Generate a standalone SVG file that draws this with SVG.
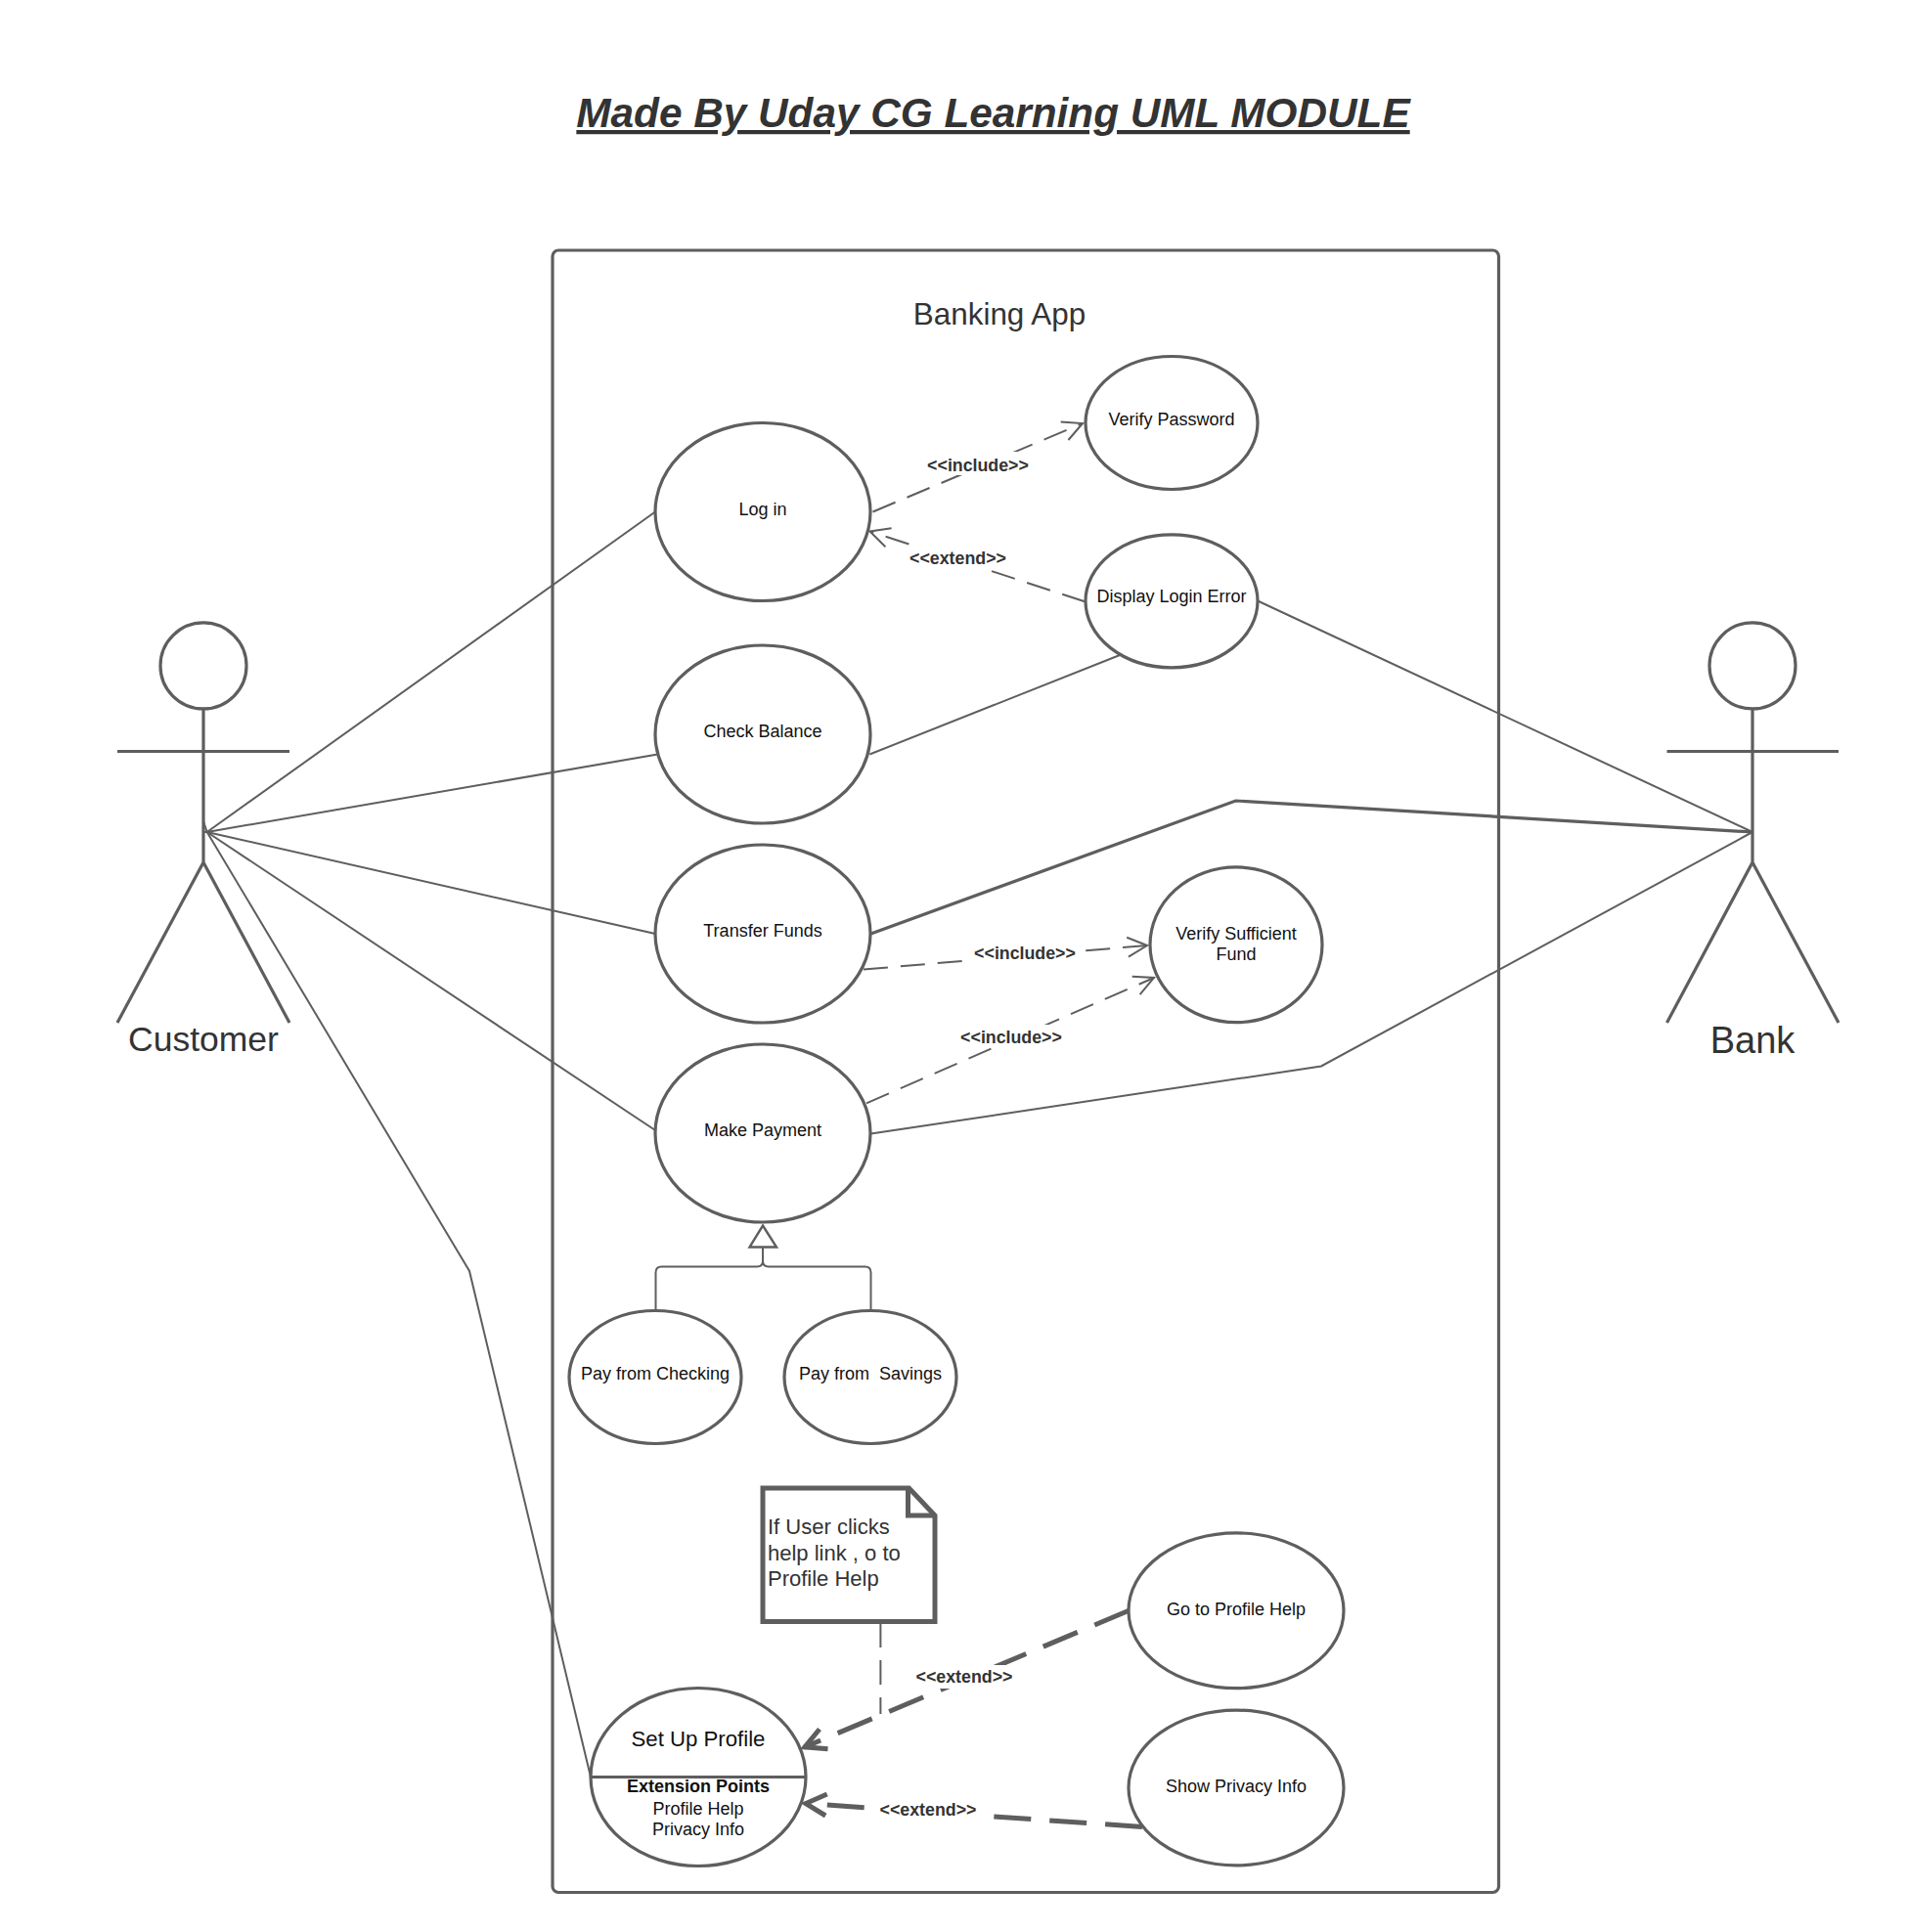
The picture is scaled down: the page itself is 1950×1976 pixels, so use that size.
<svg xmlns="http://www.w3.org/2000/svg" width="1950" height="1976" viewBox="0 0 1950 1976">
<style>
text{font-family:"Liberation Sans",Arial,sans-serif;text-anchor:middle}
.uc{fill:#fff;stroke:#5e5e5e;stroke-width:3.2}
.t{font-size:18px;fill:#111}
.lab{font-size:17.8px;font-weight:bold;fill:#333}
.bg{fill:#fff}
.line{fill:none;stroke:#5e5e5e;stroke-width:2}
.thick{fill:none;stroke:#5e5e5e;stroke-width:3.2}
.dash{fill:none;stroke:#5e5e5e;stroke-width:2;stroke-dasharray:25 13;marker-end:url(#open)}
.dashb{fill:none;stroke:#5e5e5e;stroke-width:5;stroke-dasharray:38 19;marker-end:url(#openb)}
.act{fill:none;stroke:#5e5e5e;stroke-width:3.2}
.actl{font-size:35.5px;fill:#333}
</style>
<defs>
<marker id="open" markerUnits="userSpaceOnUse" markerWidth="32" markerHeight="32" refX="25" refY="16" orient="auto"><path d="M5,6 L25,16 L5,26" fill="none" stroke="#5e5e5e" stroke-width="2"/></marker>
<marker id="openb" markerUnits="userSpaceOnUse" markerWidth="36" markerHeight="36" refX="28" refY="18" orient="auto"><path d="M6,7 L27,18 L6,29" fill="none" stroke="#5e5e5e" stroke-width="5"/></marker>
</defs>
<rect width="1950" height="1976" fill="#fff"/>
<g id="title">
<text x="1015.5" y="130" font-size="42.3" font-weight="bold" font-style="italic" fill="#333" text-decoration="underline">Made By Uday CG Learning UML MODULE</text>
</g>
<g id="system">
<rect x="565" y="256" width="967.5" height="1679.5" rx="6" fill="#fff" stroke="#5e5e5e" stroke-width="3.2"/>
<text x="1022" y="332" font-size="31.4" fill="#333">Banking App</text>
</g>
<g id="connectors">
<path class="line" d="M208,840L211.7,851L208,851"/>
<path class="line" d="M211.7,851L670,523.5"/>
<path class="line" d="M211.7,851L672.5,771.5"/>
<path class="line" d="M211.7,851L670,955"/>
<path class="line" d="M211.7,851L670,1156"/>
<path class="line" d="M211.7,851L480,1300L604,1817.5"/>
<path class="line" d="M889.3,771.5L1146.3,669.5"/>
<path class="line" d="M1286,614.5L1792,851"/>
<path class="thick" d="M890.6,955L1263.5,819L1792,851"/>
<path class="line" d="M890.6,1159.5L1351,1090.5L1792,851"/>
<path class="dash" d="M892.5,523.5L1107,433"/>
<path class="dash" d="M1110,615.5L889.5,543.5"/>
<path class="dash" d="M883,991.5L1173,967"/>
<path class="dash" d="M886,1128.3L1180,1000"/>
<path class="line" d="M900.4,1660V1753" stroke-dasharray="25 13"/>
<path class="dashb" d="M1154.3,1647.2L822,1787.2"/>
<path class="dashb" d="M1168,1868.5L823,1844.5"/>
<path class="line" d="M670.5,1340V1301.5Q670.5,1295.5 676.5,1295.5H774Q780,1295.5 780,1289.5V1275M890.5,1340V1301.5Q890.5,1295.5 884.5,1295.5H786Q780,1295.5 780,1289.5"/>
<path d="M780,1253.5L794,1275.5H766.5L780,1253.5Z" fill="#fff" stroke="#5e5e5e" stroke-width="2.4"/>
</g>
<g id="edge-labels">
<rect class="bg" x="948" y="462" width="104" height="24"/><text class="lab" x="1000" y="481.5">&lt;&lt;include&gt;&gt;</text>
<rect class="bg" x="930" y="558" width="100" height="24"/><text class="lab" x="979.5" y="577">&lt;&lt;extend&gt;&gt;</text>
<rect class="bg" x="996" y="962" width="104" height="24"/><text class="lab" x="1048" y="981">&lt;&lt;include&gt;&gt;</text>
<rect class="bg" x="982" y="1048" width="104" height="24"/><text class="lab" x="1034" y="1067">&lt;&lt;include&gt;&gt;</text>
<rect class="bg" x="936" y="1703" width="100" height="24"/><text class="lab" x="986" y="1721">&lt;&lt;extend&gt;&gt;</text>
<rect class="bg" x="899" y="1839" width="100" height="24"/><text class="lab" x="949" y="1857">&lt;&lt;extend&gt;&gt;</text>
</g>
<g id="customer">
<circle class="act" cx="208" cy="680.9" r="44"/>
<path class="act" d="M208,725V882M120,768.5H296M208,882L120,1046M208,882L296,1046"/>
<text class="actl" x="208" y="1075">Customer</text>
</g>
<g id="bank">
<circle class="act" cx="1792" cy="680.9" r="44"/>
<path class="act" d="M1792,725V882M1704.5,768.5H1880M1792,882L1704.5,1046M1792,882L1880,1046"/>
<text class="actl" x="1792" y="1076.5" style="font-size:38px">Bank</text>
</g>
<g id="login"><ellipse class="uc" cx="780" cy="523.5" rx="110" ry="91"/><text class="t" x="780" y="526.5">Log in</text></g>
<g id="balance"><ellipse class="uc" cx="780" cy="751" rx="110" ry="91"/><text class="t" x="780" y="753.5">Check Balance</text></g>
<g id="transfer"><ellipse class="uc" cx="780" cy="955" rx="110" ry="91"/><text class="t" x="780" y="958">Transfer Funds</text></g>
<g id="payment"><ellipse class="uc" cx="780" cy="1159" rx="110" ry="91"/><text class="t" x="780" y="1162">Make Payment</text></g>
<g id="verify-password"><ellipse class="uc" cx="1198" cy="432.5" rx="88" ry="68"/><text class="t" x="1198" y="434.5">Verify Password</text></g>
<g id="login-error"><ellipse class="uc" cx="1198" cy="614.8" rx="88" ry="68"/><text class="t" x="1198" y="616">Display Login Error</text></g>
<g id="verify-fund"><ellipse class="uc" cx="1264" cy="966.3" rx="88" ry="79.4"/><text class="t" x="1264" y="961">Verify Sufficient</text><text class="t" x="1264" y="982">Fund</text></g>
<g id="checking"><ellipse class="uc" cx="670" cy="1408.5" rx="88" ry="68"/><text class="t" x="670" y="1411">Pay from Checking</text></g>
<g id="savings"><ellipse class="uc" cx="890" cy="1408.5" rx="88" ry="68"/><text class="t" x="890" y="1411" xml:space="preserve">Pay from  Savings</text></g>
<g id="note">
<path d="M780,1522H929.5L956,1550V1658.5H780Z" fill="#fff" stroke="#5e5e5e" stroke-width="5"/>
<path d="M928.5,1522V1550H956" fill="none" stroke="#5e5e5e" stroke-width="5"/>
<text x="785" y="1568.5" font-size="22" fill="#333" style="text-anchor:start">If User clicks</text>
<text x="785" y="1595.5" font-size="22" fill="#333" style="text-anchor:start">help link , o to</text>
<text x="785" y="1622" font-size="22" fill="#333" style="text-anchor:start">Profile Help</text>
</g>
<g id="profile-help"><ellipse class="uc" cx="1264" cy="1647.3" rx="110" ry="79.4"/><text class="t" x="1264" y="1651.5">Go to Profile Help</text></g>
<g id="privacy-info"><ellipse class="uc" cx="1264" cy="1828.5" rx="110" ry="79.4"/><text class="t" x="1264" y="1833">Show Privacy Info</text></g>
<g id="setup-profile">
<ellipse class="uc" cx="714" cy="1817.5" rx="110" ry="91"/>
<path d="M604,1817.5H824" stroke="#5e5e5e" stroke-width="3.2"/>
<text x="714" y="1785.5" font-size="22.2" fill="#111">Set Up Profile</text>
<text class="t" x="714" y="1833" font-weight="bold">Extension Points</text>
<text class="t" x="714" y="1855.5">Profile Help</text>
<text class="t" x="714" y="1877">Privacy Info</text>
</g>
</svg>
